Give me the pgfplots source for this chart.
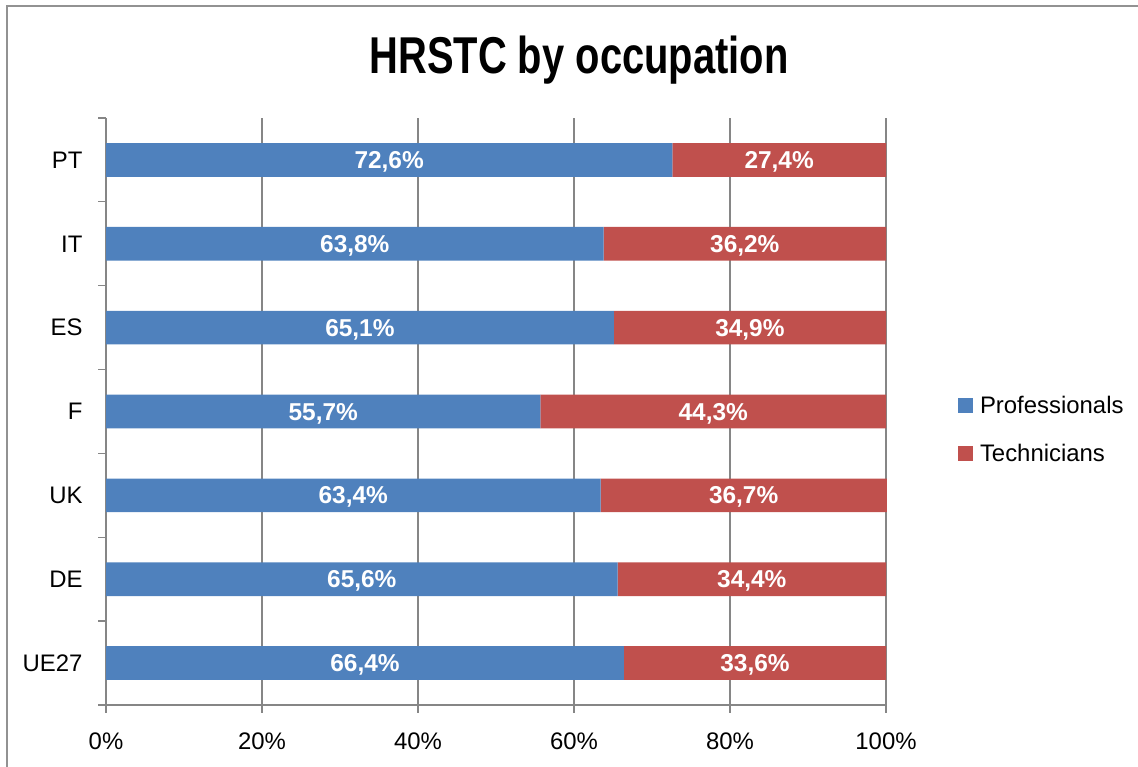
\documentclass[border=0pt]{standalone}
\usepackage{pgfplots}
\pgfplotsset{compat=1.18}
\usepackage{pgfplotstable}
\usepackage{fontspec}
\setmainfont{Liberation Sans}

\definecolor{profblue}{RGB}{79,129,189}
\definecolor{techred}{RGB}{192,80,77}
\definecolor{gridgray}{RGB}{134,134,134}

% HRSTC by occupation, share of each group (%)
\pgfplotstableread{
idx cat  prof tech
0   UE27 66.4 33.6
1   DE   65.6 34.4
2   UK   63.4 36.7
3   F    55.7 44.3
4   ES   65.1 34.9
5   IT   63.8 36.2
6   PT   72.6 27.4
}\occdata

\begin{document}
\begin{tikzpicture}[x=1bp,y=1bp]
\useasboundingbox (0,0) rectangle (1138,767);
\draw[gridgray!90, line width=1.3bp] (7,0) -- (7,761) -- (1138,761);
\node[anchor=base, font=\fontsize{52}{60}\selectfont\bfseries] at (579,693)
  {\scalebox{0.77}[1]{HRSTC by occupation}};
\begin{axis}[%
at={(106bp,62bp)}, anchor=south west,
scale only axis,
width=780bp, height=587bp,
xbar stacked,
bar width=33.7bp,
xmin=0, xmax=100,
ymin=-0.5, ymax=6.5,
axis x line*=bottom,
axis y line*=left,
axis line style={gridgray, line width=1.3bp},
xtick={0,20,...,100},
xticklabel={\pgfmathprintnumber{\tick}\%},
xtick align=outside,
xtick style={gridgray, line width=1.3bp},
major tick length=8bp,
xmajorgrids,
grid style={gridgray, line width=1.3bp},
ytick={0,...,6},
yticklabels from table={\occdata}{cat},
ytick style={draw=none},
extra y ticks={-0.5,0.5,...,6.5},
extra y tick labels={},
extra y tick style={ytick align=outside, ytick style={draw=gridgray, line width=1.3bp}},
tick label style={font=\fontsize{24}{28}\selectfont, text=black},
xticklabel style={yshift=-16bp},
yticklabel style={xshift=-20bp},
/pgf/number format/assume math mode=true,
point meta=explicit,
nodes near coords={\pgfmathprintnumber[fixed, fixed zerofill, precision=1, use comma]{\pgfplotspointmeta}\%},
nodes near coords style={text=white, yshift=-2bp, font=\fontsize{24.5}{28}\selectfont\bfseries},
legend style={draw=none, fill=none, at={(1.0923,0.466)}, anchor=west,
  inner sep=0pt, outer sep=0pt, row sep=24bp,
  font=\fontsize{24}{28}\selectfont,
  nodes={inner sep=0pt, text height=18bp, text depth=6bp},
  /tikz/every odd column/.append style={column sep=7bp}},
legend cell align=left,
legend image code/.code={\fill[#1, draw=none] (0bp,-6bp) rectangle (15bp,9bp);},
clip=false
]
\addplot [fill=profblue, draw=none]
  table [x=prof, y=idx, meta=prof] {\occdata};
\addplot [fill=techred, draw=none]
  table [x=tech, y=idx, meta=tech] {\occdata};
\legend{Professionals, Technicians}
\end{axis}
\end{tikzpicture}
\end{document}
